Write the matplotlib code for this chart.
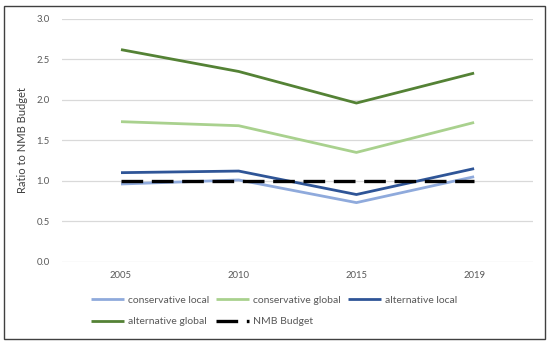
import matplotlib
matplotlib.use("Agg")
import matplotlib.pyplot as plt
from matplotlib.patches import Rectangle

years = ["2005", "2010", "2015", "2019"]
conservative_local = [0.96, 1.01, 0.73, 1.05]
conservative_global = [1.73, 1.68, 1.35, 1.72]
alternative_local = [1.10, 1.12, 0.83, 1.15]
alternative_global = [2.62, 2.35, 1.96, 2.33]
nmb_budget = [1.0, 1.0, 1.0, 1.0]
y_ticks = [0.0, 0.5, 1.0, 1.5, 2.0, 2.5, 3.0]

plt.rcParams['font.family'] = ['Lato', 'DejaVu Sans']

fig = plt.figure(figsize=(5.5, 3.43), dpi=100)
ax = fig.add_axes([0.113, 0.237, 0.856, 0.708])

# fit font sizes to the reference text widths (pixels)
fig.canvas.draw()
rend = fig.canvas.get_renderer()
def fit(s, target_px):
    t = fig.text(0, 0, s, fontsize=10)
    w = t.get_window_extent(rend).width
    t.remove()
    return 10 * target_px / w
fs_leg = fit("conservative local", 82)
fs_tick = fit("2005", 22)
fs_lab = fit("Ratio to NMB Budget", 106)

x = list(range(len(years)))
h1, = ax.plot(x, conservative_local, color="#8FAADC", lw=2.0, label="conservative local", solid_capstyle="butt")
h2, = ax.plot(x, conservative_global, color="#A9D18E", lw=2.0, label="conservative global", solid_capstyle="butt")
h3, = ax.plot(x, alternative_local, color="#2F5597", lw=2.0, label="alternative local", solid_capstyle="butt")
h4, = ax.plot(x, alternative_global, color="#548235", lw=2.0, label="alternative global", solid_capstyle="butt")
h5, = ax.plot(x, nmb_budget, color="black", lw=2.4, dashes=(6.5, 2.6), label="NMB Budget")

ax.set_xlim(-0.5, len(years) - 0.5)
ax.set_ylim(0, 3.0)
ax.set_yticks(y_ticks)
ax.set_yticklabels([f"{v:.1f}" for v in y_ticks])
ax.set_xticks(x)
ax.set_xticklabels(years)
ax.grid(axis="y", color="#D9D9D9", lw=0.9)
ax.set_axisbelow(True)
for s in ax.spines.values():
    s.set_visible(False)
ax.tick_params(length=0, colors="#595959", labelsize=fs_tick, pad=7)
ax.tick_params(axis="y", pad=9)
ax.set_ylabel("Ratio to NMB Budget", color="#404040", fontsize=fs_lab, labelpad=6)

px = 0.72  # points per pixel
handles = [h1, h4, h2, h5, h3]
leg = fig.legend(handles=handles, labels=[h.get_label() for h in handles], ncol=3,
                 loc="upper left", bbox_to_anchor=(0.165, 0.138), frameon=False,
                 fontsize=fs_leg, handlelength=33 * px / fs_leg, handletextpad=4 * px / fs_leg,
                 columnspacing=7 * px / fs_leg, labelspacing=1.15, borderaxespad=0, borderpad=0)
for t in leg.get_texts():
    t.set_color("#595959")

fig.patches.append(Rectangle((0.008, 0.013), 0.982, 0.97, transform=fig.transFigure,
                             fill=False, edgecolor="#404040", lw=1.0))

fig.savefig("out.png", dpi=100)
